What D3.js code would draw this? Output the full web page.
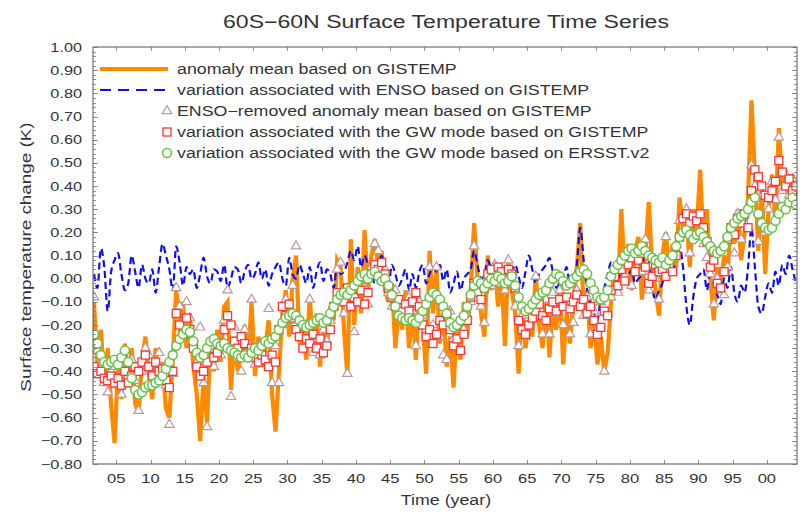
<!DOCTYPE html>
<html><head><meta charset="utf-8">
<script src="https://cdn.jsdelivr.net/npm/d3@7"></script>
<style>
html,body{margin:0;padding:0;background:#fff;}
text{font-family:"Liberation Sans",Arial,sans-serif;}
</style>
</head><body>
<svg id="chart" width="804" height="512"></svg>
<script>
// ---- data (half-year samples starting 1901.75) ----
const startYear = 1901.75;
const stepYear = 0.5;

const anomalyGISTEMP = [
-0.10,-0.40,-0.22,-0.46,-0.30,-0.55,-0.71,-0.38,-0.52,-0.28,
-0.45,-0.30,-0.54,-0.58,-0.36,-0.25,-0.40,-0.52,-0.30,-0.44,
-0.36,-0.56,-0.60,-0.35,-0.05,-0.18,-0.10,-0.30,-0.15,-0.38,
-0.50,-0.70,-0.42,-0.62,-0.28,-0.40,-0.22,-0.36,-0.12,-0.10,
-0.48,-0.25,-0.40,-0.32,-0.20,-0.36,-0.10,-0.42,-0.25,-0.38,
-0.30,-0.18,-0.50,-0.66,-0.40,-0.15,-0.05,-0.25,0.00,0.10,
-0.28,-0.20,-0.35,-0.08,-0.30,-0.15,-0.38,-0.20,-0.30,-0.12,
-0.18,0.08,0.05,-0.22,-0.42,0.17,-0.20,0.05,-0.15,0.21,
-0.05,0.10,0.17,0.05,0.12,-0.05,-0.10,-0.02,-0.30,-0.12,
-0.22,-0.05,-0.30,-0.12,-0.35,-0.08,-0.20,-0.41,0.12,-0.15,
0.05,-0.28,-0.15,-0.38,-0.25,-0.47,-0.18,-0.35,-0.10,-0.25,
-0.05,0.24,0.00,-0.15,-0.25,0.10,-0.05,0.06,-0.12,0.02,
-0.29,0.08,-0.05,-0.15,-0.41,-0.10,-0.30,-0.18,-0.25,0.02,
-0.20,-0.30,-0.05,-0.34,-0.12,-0.22,0.00,-0.37,-0.15,-0.28,
-0.10,0.05,0.24,-0.15,-0.05,-0.30,-0.18,-0.37,-0.25,-0.40,
-0.32,-0.10,0.05,-0.05,0.30,0.00,0.15,-0.05,0.12,0.18,
-0.09,0.10,0.33,0.05,-0.05,-0.16,0.10,0.20,0.02,0.15,
0.05,0.35,0.22,0.28,0.05,0.30,0.20,0.47,0.15,0.30,
0.00,-0.18,0.05,-0.05,0.10,0.02,0.25,0.15,0.30,0.08,
0.20,0.35,0.77,0.45,0.12,0.40,0.02,0.30,0.45,0.25,
0.65,0.40,0.47,0.30,0.45,0.35];

const ensoVariation = [
0.02,-0.04,0.13,0.05,-0.14,0.03,0.08,0.11,0.02,-0.05,
-0.02,0.10,0.03,-0.04,0.06,0.00,-0.02,0.04,-0.06,0.05,
0.15,0.10,0.04,-0.05,0.14,0.07,-0.03,0.05,0.02,0.04,
-0.04,0.02,0.09,0.01,-0.02,0.04,0.03,-0.01,0.06,-0.04,
0.00,0.05,0.04,-0.02,0.03,0.06,0.00,0.02,0.07,0.00,
0.04,-0.03,0.02,0.05,0.07,0.00,-0.03,0.09,0.02,0.00,
0.06,0.02,-0.02,0.05,-0.04,0.03,0.07,-0.01,0.04,0.02,
-0.04,0.06,0.02,0.03,0.07,0.12,0.08,0.14,0.05,0.10,
0.06,0.02,-0.02,0.05,0.10,0.03,-0.03,0.06,0.02,-0.03,
0.00,0.04,-0.05,0.02,-0.04,0.03,0.06,-0.02,0.02,0.05,
0.03,0.06,-0.01,0.04,-0.06,-0.02,0.03,-0.05,0.00,0.02,
0.04,0.12,0.06,0.00,0.02,0.08,0.04,0.00,0.06,0.02,
0.03,-0.03,0.02,0.06,0.01,-0.04,0.03,0.10,0.04,-0.02,
0.02,0.04,0.06,0.09,0.03,-0.04,-0.02,0.00,0.05,-0.03,
0.00,0.06,0.22,0.08,-0.05,-0.10,-0.15,-0.18,-0.08,-0.04,
0.02,0.07,0.05,0.00,0.03,-0.02,0.01,0.04,-0.02,0.00,
0.02,0.15,0.08,-0.04,-0.09,-0.05,-0.02,0.05,0.02,0.03,
0.10,0.14,0.05,-0.12,-0.20,-0.08,0.00,0.02,0.04,-0.05,
0.04,-0.02,-0.07,-0.11,0.00,-0.04,0.05,-0.06,-0.10,-0.03,
-0.06,0.05,0.22,0.05,-0.12,-0.15,-0.08,-0.02,-0.06,0.03,
-0.03,0.06,0.02,0.10,0.04,-0.02];

const ensoRemoved = [
-0.08,-0.31,-0.36,-0.45,-0.49,-0.40,-0.38,-0.46,-0.50,-0.36,
-0.42,-0.35,-0.44,-0.57,-0.40,-0.30,-0.33,-0.45,-0.37,-0.32,
-0.39,-0.46,-0.63,-0.41,-0.04,-0.12,-0.22,-0.10,-0.17,-0.28,
-0.36,-0.21,-0.45,-0.64,-0.30,-0.38,-0.27,-0.33,-0.18,-0.05,
-0.51,-0.21,-0.34,-0.40,-0.22,-0.28,-0.09,-0.37,-0.29,-0.33,
-0.36,-0.13,-0.45,-0.29,-0.45,-0.20,-0.09,-0.18,-0.03,0.14,
-0.24,-0.29,-0.20,-0.09,-0.32,-0.26,-0.33,-0.22,-0.27,-0.18,
-0.12,0.04,0.07,-0.15,-0.41,-0.06,-0.23,-0.02,-0.11,-0.04,
-0.11,0.05,0.15,0.12,-0.01,0.04,-0.06,-0.12,-0.05,-0.15,
-0.10,-0.18,-0.08,-0.14,-0.29,-0.10,-0.16,-0.22,0.05,-0.20,
0.05,-0.25,-0.33,-0.35,-0.14,-0.26,-0.20,-0.31,-0.22,-0.16,
-0.10,0.14,-0.04,-0.12,-0.19,0.02,-0.03,0.06,-0.02,0.04,
-0.05,0.08,0.03,-0.12,-0.29,-0.16,-0.25,-0.20,-0.14,0.01,
-0.16,-0.24,-0.09,-0.24,-0.06,-0.15,-0.05,-0.20,-0.10,-0.24,
-0.19,-0.05,-0.10,-0.16,-0.08,-0.24,-0.14,-0.22,-0.10,-0.40,
-0.15,-0.08,0.04,-0.06,0.07,0.01,0.10,-0.03,0.08,0.12,
0.03,0.17,-0.05,0.06,0.00,-0.09,0.08,0.18,0.03,0.09,
0.12,0.25,0.20,0.30,0.11,0.24,0.18,0.27,0.15,0.09,
0.02,-0.11,0.00,-0.05,-0.07,0.05,0.20,0.11,0.28,0.17,
0.24,0.30,0.49,0.40,0.16,0.36,0.20,0.30,0.42,0.34,
0.61,0.38,0.45,0.36,0.43,0.34];

const gwModeGISTEMP = [
-0.38,-0.41,-0.40,-0.43,-0.44,-0.42,-0.45,-0.43,-0.46,-0.40,
-0.45,-0.42,-0.38,-0.40,-0.36,-0.33,-0.38,-0.42,-0.36,-0.40,
-0.39,-0.44,-0.47,-0.40,-0.15,-0.20,-0.24,-0.17,-0.22,-0.30,
-0.38,-0.42,-0.40,-0.36,-0.30,-0.34,-0.32,-0.28,-0.22,-0.16,
-0.20,-0.27,-0.30,-0.25,-0.28,-0.32,-0.30,-0.34,-0.36,-0.33,
-0.35,-0.38,-0.33,-0.36,-0.22,-0.12,-0.16,-0.11,-0.17,-0.22,
-0.25,-0.30,-0.26,-0.28,-0.24,-0.30,-0.26,-0.32,-0.29,-0.22,
-0.12,-0.06,-0.09,-0.10,-0.04,-0.12,-0.08,-0.10,-0.05,-0.11,
-0.06,0.02,0.06,0.04,0.07,0.02,-0.04,-0.08,-0.12,-0.09,
-0.14,-0.11,-0.14,-0.10,-0.06,-0.12,-0.20,-0.25,-0.22,-0.28,
-0.24,-0.18,-0.20,-0.15,-0.22,-0.29,-0.26,-0.31,-0.24,-0.18,
-0.08,-0.02,-0.06,-0.09,-0.04,0.02,0.04,0.00,0.05,0.03,
-0.01,0.04,0.02,-0.04,-0.18,-0.22,-0.24,-0.20,-0.17,-0.14,
-0.11,-0.16,-0.18,-0.13,-0.10,-0.14,-0.09,-0.12,-0.08,-0.13,
-0.10,-0.07,-0.12,-0.09,-0.15,-0.12,-0.18,-0.24,-0.21,-0.14,
-0.16,-0.05,0.01,-0.03,0.04,-0.01,0.06,0.09,0.03,0.08,
0.11,0.05,-0.02,0.01,0.06,0.03,0.04,0.01,0.06,0.03,
0.10,0.18,0.26,0.28,0.24,0.27,0.25,0.28,0.22,0.16,
0.05,0.08,-0.02,-0.04,0.03,0.17,0.22,0.19,0.26,0.24,
0.28,0.22,0.38,0.47,0.44,0.40,0.36,0.35,0.38,0.42,
0.51,0.46,0.40,0.43,0.38,0.40];

const gwModeERSST = [
-0.24,-0.28,-0.33,-0.36,-0.37,-0.36,-0.35,-0.37,-0.34,-0.31,
-0.36,-0.43,-0.48,-0.50,-0.49,-0.47,-0.46,-0.46,-0.45,-0.44,
-0.42,-0.39,-0.36,-0.33,-0.29,-0.26,-0.24,-0.22,-0.23,-0.27,
-0.32,-0.34,-0.33,-0.30,-0.27,-0.26,-0.28,-0.29,-0.28,-0.30,
-0.31,-0.32,-0.33,-0.34,-0.33,-0.34,-0.32,-0.30,-0.31,-0.29,
-0.27,-0.28,-0.26,-0.25,-0.22,-0.19,-0.17,-0.16,-0.15,-0.16,
-0.18,-0.20,-0.21,-0.20,-0.19,-0.18,-0.17,-0.19,-0.18,-0.15,
-0.12,-0.09,-0.07,-0.06,-0.07,-0.05,-0.03,-0.01,0.01,0.02,
0.00,0.02,0.03,0.01,-0.01,0.00,-0.03,-0.07,-0.12,-0.16,
-0.17,-0.18,-0.17,-0.18,-0.19,-0.17,-0.14,-0.11,-0.08,-0.06,
-0.07,-0.09,-0.12,-0.15,-0.19,-0.21,-0.20,-0.18,-0.16,-0.12,
-0.07,-0.03,-0.01,-0.02,-0.04,-0.02,0.00,-0.01,0.01,0.00,
-0.02,-0.01,0.01,-0.03,-0.08,-0.12,-0.14,-0.13,-0.11,-0.09,
-0.07,-0.06,-0.05,-0.02,0.00,0.02,0.01,-0.01,-0.03,-0.02,
0.00,0.01,0.03,0.04,0.02,-0.02,-0.05,-0.08,-0.09,-0.08,
-0.05,0.01,0.04,0.06,0.08,0.10,0.12,0.13,0.11,0.12,
0.14,0.12,0.10,0.09,0.08,0.07,0.09,0.06,0.08,0.10,
0.14,0.18,0.20,0.21,0.19,0.17,0.19,0.20,0.18,0.16,
0.14,0.12,0.11,0.12,0.14,0.18,0.22,0.24,0.26,0.27,
0.28,0.30,0.33,0.35,0.28,0.24,0.22,0.21,0.22,0.25,
0.28,0.31,0.30,0.33,0.35,0.32];

const xTickYears = [1905,1910,1915,1920,1925,1930,1935,1940,1945,1950,1955,1960,1965,1970,1975,1980,1985,1990,1995,2000];
const xTickLabels = ["05","10","15","20","25","30","35","40","45","50","55","60","65","70","75","80","85","90","95","00"];
const yTicks = [-0.8,-0.7,-0.6,-0.5,-0.4,-0.3,-0.2,-0.1,0,0.1,0.2,0.3,0.4,0.5,0.6,0.7,0.8,0.9,1.0];
const legendLabels = [
 "anomaly mean based on GISTEMP",
 "variation associated with ENSO based on GISTEMP",
 "ENSO\u2212removed anomaly mean based on GISTEMP",
 "variation associated with the GW mode based on GISTEMP",
 "variation associated with the GW mode based on ERSST.v2"];
const titleText = "60S\u221260N Surface Temperature Time Series";
const xTitle = "Time (year)";
const yTitle = "Surface temperature change (K)";

// ---- drawing ----
const svg = d3.select("#chart");
const L = 93, R = 797, T = 47, B = 464;
const x = d3.scaleLinear().domain([1901.6, 2004.4]).range([L, R]);
const y = d3.scaleLinear().domain([-0.8, 1.0]).range([B, T]);
const tOf = i => startYear + stepYear * i;
const STRETCH = 1.27;   // the reference's text is horizontally wide
function stretch(sel, f){
  sel.each(function(){
    const w = this.getComputedTextLength();
    d3.select(this).attr("textLength", w*(f||STRETCH)).attr("lengthAdjust","spacingAndGlyphs");
  });
}

const COL = {orange:"#ff8a00", blue:"#1010ee", tri:"#b89a9a", sq:"#ff3333", circ:"#6cc24a", text:"#333"};

const g = svg.append("g");
g.append("defs").append("clipPath").attr("id","clip")
 .append("rect").attr("x",L).attr("y",T).attr("width",R-L).attr("height",B-T);

const plot = g.append("g").attr("clip-path","url(#clip)");
const lineLin = d3.line().x((d,i)=>x(tOf(i))).y(d=>y(d));
const lineSmooth = d3.line().x((d,i)=>x(tOf(i))).y(d=>y(d)).curve(d3.curveMonotoneX);

plot.append("path").datum(anomalyGISTEMP).attr("d",lineLin)
 .attr("fill","none").attr("stroke",COL.orange).attr("stroke-width",4.2).attr("stroke-linejoin","miter");
plot.append("path").datum(ensoVariation).attr("d",lineSmooth)
 .attr("fill","none").attr("stroke",COL.blue).attr("stroke-width",2.2).attr("stroke-dasharray","7,4");

const triSym = d3.symbol().type(d3.symbolTriangle).size(38);
plot.append("g").selectAll("path").data(ensoRemoved).join("path")
 .attr("d",triSym).attr("transform",(d,i)=>`translate(${x(tOf(i))},${y(d)})`)
 .attr("fill","#fff").attr("stroke",COL.tri).attr("stroke-width",1.2);

plot.append("g").selectAll("rect").data(gwModeGISTEMP).join("rect")
 .attr("x",(d,i)=>x(tOf(i))-4).attr("y",d=>y(d)-4).attr("width",8).attr("height",8)
 .attr("fill","#fff").attr("stroke",COL.sq).attr("stroke-width",1.3);

plot.append("g").selectAll("circle").data(gwModeERSST).join("circle")
 .attr("cx",(d,i)=>x(tOf(i))).attr("cy",d=>y(d)).attr("r",4.5)
 .attr("fill","#fff").attr("stroke",COL.circ).attr("stroke-width",1.6);

// frame
g.append("rect").attr("x",L).attr("y",T).attr("width",R-L).attr("height",B-T)
 .attr("fill","none").attr("stroke","#555").attr("stroke-width",1);

// ticks (inward, both sides)
const minor = d3.range(-0.8, 1.0001, 0.02);
const tk = g.append("g").attr("stroke","#777").attr("stroke-width",0.8);
minor.forEach(v=>{
  const yy = Math.round(y(v))+0.5;
  tk.append("line").attr("x1",L).attr("x2",L+3).attr("y1",yy).attr("y2",yy);
  tk.append("line").attr("x1",R-3).attr("x2",R).attr("y1",yy).attr("y2",yy);
});
yTicks.forEach(v=>{
  const yy = Math.round(y(v))+0.5;
  tk.append("line").attr("x1",L).attr("x2",L+5).attr("y1",yy).attr("y2",yy);
  tk.append("line").attr("x1",R-5).attr("x2",R).attr("y1",yy).attr("y2",yy);
});
xTickYears.forEach(v=>{
  const xx = Math.round(x(v))+0.5;
  tk.append("line").attr("x1",xx).attr("x2",xx).attr("y1",B).attr("y2",B-4);
  tk.append("line").attr("x1",xx).attr("x2",xx).attr("y1",T).attr("y2",T+4);
});

const fmt = d3.format(".2f");
g.append("g").selectAll("text").data(yTicks).join("text")
 .attr("x",82).attr("y",d=>y(d)+4.5).attr("text-anchor","end")
 .attr("font-size",12.5).attr("fill",COL.text).text(d=>fmt(d).replace("-","\u2212"))
 .call(stretch, 1.3);

g.append("g").selectAll("text").data(xTickYears).join("text")
 .attr("x",d=>x(d)).attr("y",483).attr("text-anchor","middle")
 .attr("font-size",13).attr("fill",COL.text).text((d,i)=>xTickLabels[i])
 .call(stretch);

svg.append("text").attr("x",446).attr("y",28).attr("text-anchor","middle")
 .attr("font-size",18).attr("fill",COL.text).text(titleText).call(stretch, 1.28);
svg.append("text").attr("x",446).attr("y",505).attr("text-anchor","middle")
 .attr("font-size",14).attr("fill",COL.text).text(xTitle).call(stretch);
svg.append("text").attr("transform","translate(31,257) rotate(-90)").attr("text-anchor","middle")
 .attr("font-size",14.5).attr("fill",COL.text).text(yTitle).call(stretch, 1.3);

// legend
const lg = svg.append("g");
const rowsY = [69, 90, 111, 132, 153];
const tx = 177;
lg.append("line").attr("x1",100).attr("x2",168).attr("y1",rowsY[0]).attr("y2",rowsY[0])
 .attr("stroke",COL.orange).attr("stroke-width",4);
lg.append("line").attr("x1",100).attr("x2",168).attr("y1",rowsY[1]).attr("y2",rowsY[1])
 .attr("stroke",COL.blue).attr("stroke-width",2).attr("stroke-dasharray","11,7");
lg.append("path").attr("d",triSym).attr("transform",`translate(167,${rowsY[2]})`)
 .attr("fill","#fff").attr("stroke",COL.tri).attr("stroke-width",1.2);
lg.append("rect").attr("x",163).attr("y",rowsY[3]-4).attr("width",8).attr("height",8)
 .attr("fill","#fff").attr("stroke",COL.sq).attr("stroke-width",1.3);
lg.append("circle").attr("cx",167).attr("cy",rowsY[4]).attr("r",4.5)
 .attr("fill","#fff").attr("stroke",COL.circ).attr("stroke-width",1.6);
lg.selectAll("text").data(legendLabels).join("text")
 .attr("x",tx).attr("y",(d,i)=>rowsY[i]+5).attr("font-size",14).attr("fill",COL.text).text(d=>d)
 .call(stretch);
</script>
</body></html>
